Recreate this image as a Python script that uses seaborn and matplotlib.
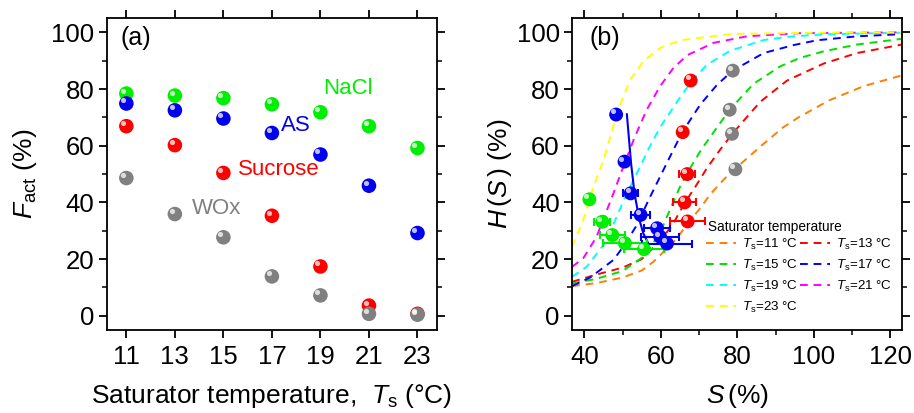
import numpy as np
import pandas as pd
import matplotlib
matplotlib.use("Agg")
import matplotlib.pyplot as plt
from matplotlib.ticker import MultipleLocator
from matplotlib.transforms import offset_copy
import seaborn as sns

# ---- panel (a): activated fraction vs saturator temperature ----
temps = [11, 13, 15, 17, 19, 21, 23]
nacl = [78.4, 77.7, 76.8, 74.6, 71.8, 66.9, 59.2]
amm_sulf = [74.9, 72.5, 69.6, 64.5, 56.9, 45.9, 29.2]
sucrose = [66.9, 60.2, 50.4, 35.3, 17.4, 3.6, 0.7]
wox = [48.6, 35.9, 27.7, 13.9, 7.2, 0.7, 0.4]

# ---- panel (b): measured points ----
gray_s = [78.8, 78.0, 78.6, 79.5]
gray_h = [86.5, 72.7, 64.2, 51.7]
red_s = [67.8, 65.7, 66.9, 66.2, 67.0]
red_h = [83.0, 64.8, 50.0, 40.0, 33.3]
red_err = [0.0, 0.8, 2.1, 3.0, 4.5]
blue_s = [48.3, 50.5, 52.1, 54.7, 59.0, 59.8, 61.6]
blue_h = [71.0, 54.4, 43.2, 35.6, 30.9, 27.9, 25.5]
blue_err = [0.0, 1.0, 2.0, 2.5, 3.4, 5.0, 6.5]
green_s = [41.3, 44.7, 47.3, 50.6, 55.6]
green_h = [41.1, 33.2, 28.5, 25.6, 23.5]
green_err = [0.5, 2.1, 3.2, 5.7, 5.2]

# blue guide line through the AS points
guide_s = [51.1, 52.2, 53.1, 54.4, 55.4, 56.8]
guide_h = [71.2, 53.9, 43.2, 33.8, 29.1, 25.3]

# ---- panel (b): H(S) curves, one per saturator temperature ----
curve_s = {
    11: [36.8, 43, 50, 55, 58, 61.4, 64, 67, 70.3, 73, 76.4, 79.5, 82.5, 86, 92, 96, 104, 113, 123.5],
    13: [36.8, 43, 50, 55, 59.8, 63, 66.1, 69, 72, 75.5, 78.6, 80.8, 86, 93, 102.6, 111.3, 123.5],
    15: [36.8, 43, 50, 55.6, 59.8, 62.4, 65, 67, 68.5, 70.5, 73.8, 78, 84.2, 91.2, 96.4, 102.6, 111.3, 123.5],
    17: [36.8, 41.5, 47.6, 50.6, 53.7, 57.2, 61.6, 65.6, 70.3, 74.7, 78.8, 86.9, 94.7, 100.8, 111.3, 123.5],
    19: [36.8, 40.6, 45, 47.5, 50.2, 52.5, 54.6, 57, 59.8, 62.5, 65, 67.9, 72, 78.1, 86.9, 93.8, 102.6, 123.5],
    21: [36.8, 39.7, 43.2, 44.7, 47.6, 50.2, 53, 56.3, 59.8, 63.3, 67, 73.8, 82.5, 96, 123.5],
    23: [36.8, 39.7, 41.3, 42.4, 45, 47.6, 48.3, 52, 55.4, 59.8, 65, 78.1, 96.4, 123.5],
}
curve_h = {
    11: [10.5, 11.5, 13.5, 16, 19, 23.5, 27, 32.5, 38, 43, 48, 52, 55.5, 59.7, 66.5, 70, 76, 81, 85],
    13: [12, 14.5, 17, 20, 26.5, 32, 39.5, 45.5, 52, 58.6, 64, 67.5, 75.5, 83, 89, 92.7, 95.8],
    15: [11.4, 13, 15.8, 21, 29.3, 37.5, 45.5, 50.5, 54, 58.5, 64.8, 72.7, 81.8, 88, 91, 93.3, 95.7, 97.8],
    17: [10.5, 13.5, 19.7, 25.2, 32, 42, 54, 64.8, 74.5, 81.5, 86.5, 92.7, 95.5, 97.2, 98.6, 99.4],
    19: [13.8, 17.3, 25, 32, 40.5, 47, 52.7, 59.5, 66.5, 72, 77, 82.5, 88.5, 93.5, 97.3, 98.5, 99.3, 99.9],
    21: [17.3, 20.3, 27.9, 33.2, 43.2, 52.7, 62.5, 72.7, 81, 87.5, 92, 96.3, 98.6, 99.7, 100],
    23: [24.4, 33.8, 41, 45.6, 55, 67, 71, 83.3, 89.8, 94.5, 97.2, 99.4, 99.8, 100],
}
curve_colors = {11: '#FF8000', 13: '#FF0000', 15: '#00E000', 17: '#0000FF',
                19: '#00FFFF', 21: '#FF00FF', 23: '#FFFF00'}

sns.set_style("ticks")
plt.rcParams['font.family'] = ['Liberation Sans', 'DejaVu Sans']
plt.rcParams['mathtext.fontset'] = 'custom'
plt.rcParams['mathtext.rm'] = 'Liberation Sans'
plt.rcParams['mathtext.it'] = 'Liberation Sans:italic'
plt.rcParams['axes.linewidth'] = 1.3
plt.rcParams['axes.edgecolor'] = 'black'
plt.rcParams['axes.labelcolor'] = 'black'
plt.rcParams['text.color'] = 'black'
for ax_name in ['xtick', 'ytick']:
    plt.rcParams[f'{ax_name}.major.width'] = 1.3
    plt.rcParams[f'{ax_name}.minor.width'] = 1.1
    plt.rcParams[f'{ax_name}.major.size'] = 5.5
    plt.rcParams[f'{ax_name}.minor.size'] = 3.5
    plt.rcParams[f'{ax_name}.direction'] = 'out'
    plt.rcParams[f'{ax_name}.color'] = 'black'
    plt.rcParams[f'{ax_name}.labelcolor'] = 'black'

fig = plt.figure(figsize=(9.14, 4.13), dpi=100)
ax1 = fig.add_axes([0.117, 0.201, 0.361, 0.755])
ax2 = fig.add_axes([0.626, 0.201, 0.361, 0.755])

BALL_S = 110
HL = dict(color='white', s=14, alpha=0.75, linewidth=0, zorder=6)


def balls(ax, x, y, color, s=BALL_S):
    sns.scatterplot(x=x, y=y, color=color, s=s, edgecolor='none', ax=ax, zorder=5, legend=False)
    tr = offset_copy(ax.transData, fig=fig, x=-2.2, y=2.2, units='points')
    ax.scatter(x, y, transform=tr, **HL)


# ---- panel (a) ----
df_a = pd.DataFrame({
    'T': temps * 4,
    'F': nacl + amm_sulf + sucrose + wox,
    'mat': ['NaCl'] * 7 + ['AS'] * 7 + ['Sucrose'] * 7 + ['WOx'] * 7,
})
pal_a = {'NaCl': '#00EE00', 'AS': '#0000EE', 'Sucrose': '#FF0000', 'WOx': '#808080'}
for mat in ['NaCl', 'AS', 'Sucrose', 'WOx']:
    sub = df_a[df_a['mat'] == mat]
    balls(ax1, sub['T'].values, sub['F'].values, pal_a[mat])

ax1.text(20.13, 80.1, 'NaCl', color='#00EE00', fontsize=16, ha='center', va='center')
ax1.text(17.98, 67.0, 'AS', color='#0000EE', fontsize=16, ha='center', va='center')
ax1.text(17.29, 51.5, 'Sucrose', color='#FF0000', fontsize=16, ha='center', va='center')
ax1.text(14.71, 37.9, 'WOx', color='#808080', fontsize=16, ha='center', va='center')
ax1.text(0.042, 0.937, '(a)', transform=ax1.transAxes, fontsize=18, ha='left', va='center')

ax1.set_xlim(10.2, 23.8)
ax1.set_ylim(-5, 105)
ax1.set_xticks(temps)
ax1.yaxis.set_major_locator(MultipleLocator(20))
ax1.yaxis.set_minor_locator(MultipleLocator(10))
ax1.tick_params(which='both', top=True, right=True, labelsize=18.5)
ax1.tick_params(axis='x', pad=5.5)
ax1.set_xlabel(r'Saturator temperature,  $T_\mathrm{s}$ ($\degree$C)', fontsize=19)
ax1.set_ylabel(r'$F_\mathrm{act}$ (%)', fontsize=19)
ax1.xaxis.set_label_coords(0.5, -0.168)
ax1.yaxis.set_label_coords(-0.205, 0.5)

# ---- panel (b) ----
handles = {}
for t in [11, 13, 15, 17, 19, 21, 23]:
    sns.lineplot(x=curve_s[t], y=curve_h[t], color=curve_colors[t], ax=ax2,
                 linewidth=1.4, dashes=False, zorder=2)
    ln = ax2.lines[-1]
    ln.set_dashes((4, 3))
    ln.set_label(r'$T_\mathrm{s}$=%d $\degree$C' % t)
    handles[t] = ln

sns.lineplot(x=guide_s, y=guide_h, color='#0000EE', ax=ax2, linewidth=1.5, sort=False, zorder=3)

for s, h, e, c in [(green_s, green_h, green_err, '#00EE00'),
                   (blue_s, blue_h, blue_err, '#0000EE'),
                   (red_s, red_h, red_err, '#FF0000')]:
    ax2.errorbar(s, h, xerr=e, fmt='none', ecolor=c, elinewidth=1.5, capsize=3, capthick=1.5, zorder=4)

balls(ax2, green_s, green_h, '#00EE00', s=100)
balls(ax2, blue_s, blue_h, '#0000EE', s=100)
balls(ax2, red_s, red_h, '#FF0000', s=100)
balls(ax2, gray_s, gray_h, '#808080', s=100)

ax2.text(0.052, 0.937, '(b)', transform=ax2.transAxes, fontsize=18, ha='left', va='center')

ax2.set_xlim(36.8, 123.1)
ax2.set_ylim(-5, 105)
ax2.xaxis.set_major_locator(MultipleLocator(20))
ax2.xaxis.set_minor_locator(MultipleLocator(10))
ax2.yaxis.set_major_locator(MultipleLocator(20))
ax2.yaxis.set_minor_locator(MultipleLocator(10))
ax2.tick_params(which='both', top=True, right=True, labelsize=18.5)
ax2.tick_params(axis='x', pad=5.5)
ax2.set_xlabel(r'$S\,$(%)', fontsize=19)
ax2.set_ylabel(r'$H\,(S\,)$ (%)', fontsize=19)
ax2.xaxis.set_label_coords(0.5, -0.168)
ax2.yaxis.set_label_coords(-0.175, 0.5)

ax2.text(0.412, 0.3305, 'Saturator temperature', transform=ax2.transAxes,
         fontsize=9.8, ha='left', va='center')
order = [11, 15, 19, 23, 13, 17, 21]
leg = ax2.legend([handles[t] for t in order], [handles[t].get_label() for t in order],
                 ncol=2, frameon=False, fontsize=9.6,
                 loc='upper left', bbox_to_anchor=(0.405, 0.3),
                 borderpad=0, borderaxespad=0, handlelength=2.3, handletextpad=0.45,
                 columnspacing=0.1, labelspacing=0.45)

fig.savefig('out.png', dpi=100)
